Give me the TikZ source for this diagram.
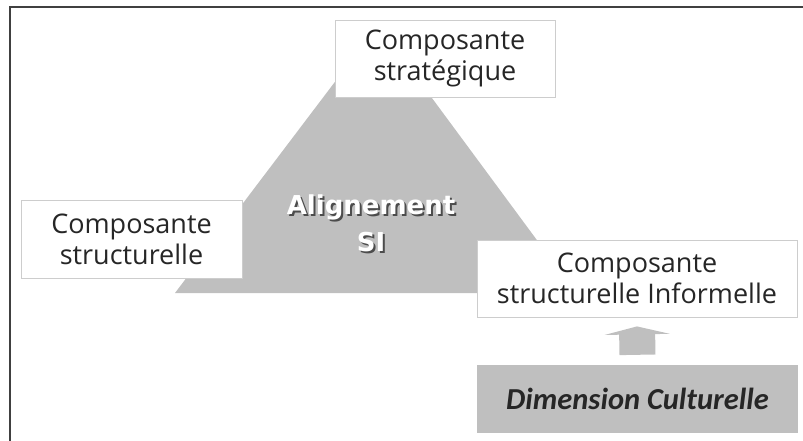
\documentclass[tikz,border=0pt]{standalone}
\usepackage{fontspec}
\setmainfont{Open Sans}
\newfontfamily\alignfont{DejaVu Sans}
\newfontfamily\culturefont{Carlito}
\usetikzlibrary{arrows.meta}
\definecolor{trigray}{RGB}{191,191,191}
\definecolor{boxline}{RGB}{205,205,205}
\newcommand\shadowed[1]{\makebox[0pt][l]{\hspace{2pt}\raisebox{-2pt}{\textcolor{black!70}{#1}}}\textcolor{white}{#1}}

\begin{document}
\begin{tikzpicture}[x=1pt, y=-1pt, comp/.style={rectangle, draw=boxline, line width=0.8pt, fill=white, align=center, inner sep=0pt, font=\fontsize{27}{31}\selectfont, text=black!85}, dimbox/.style={rectangle, fill=trigray, inner sep=0pt, font=\culturefont\bfseries\itshape\fontsize{30.5}{36}\selectfont, text=black!85}, title/.style={align=center, font=\alignfont\bfseries\fontsize{26}{37}\selectfont}, uparrow/.style={-{Triangle[width=65pt, length=8pt]}, line width=36pt, draw=trigray}]
            \useasboundingbox (0,0) rectangle (803,441);
            % frame and triangle
            \draw[line width=2pt, black!75] (10,441) -- (10,7.5) -- (803,7.5);
            \fill[trigray] (378,25) -- (576,293) -- (175,293) -- cycle;
            % nodes
            \node[title] (align) at (371,224) {\shadowed{Alignement}\\\shadowed{SI}};
            \node[comp, minimum width=220pt, minimum height=77pt] (strat) at (445,58.5) {Composante\\stratégique};
            \node[comp, minimum width=221pt, minimum height=78pt] (struct) at (131.5,239) {Composante\\structurelle};
            \node[comp, minimum width=320pt, minimum height=77pt] (inform) at (637,278.5) {Composante\\structurelle Informelle};
            \node[dimbox, minimum width=321pt, minimum height=68pt] (cult) at (637.5,399) {Dimension Culturelle};
            % edges
            \draw[uparrow] ([yshift=10pt]cult.north) -- ([yshift=-9pt]inform.south);
        \end{tikzpicture}
\end{document}
